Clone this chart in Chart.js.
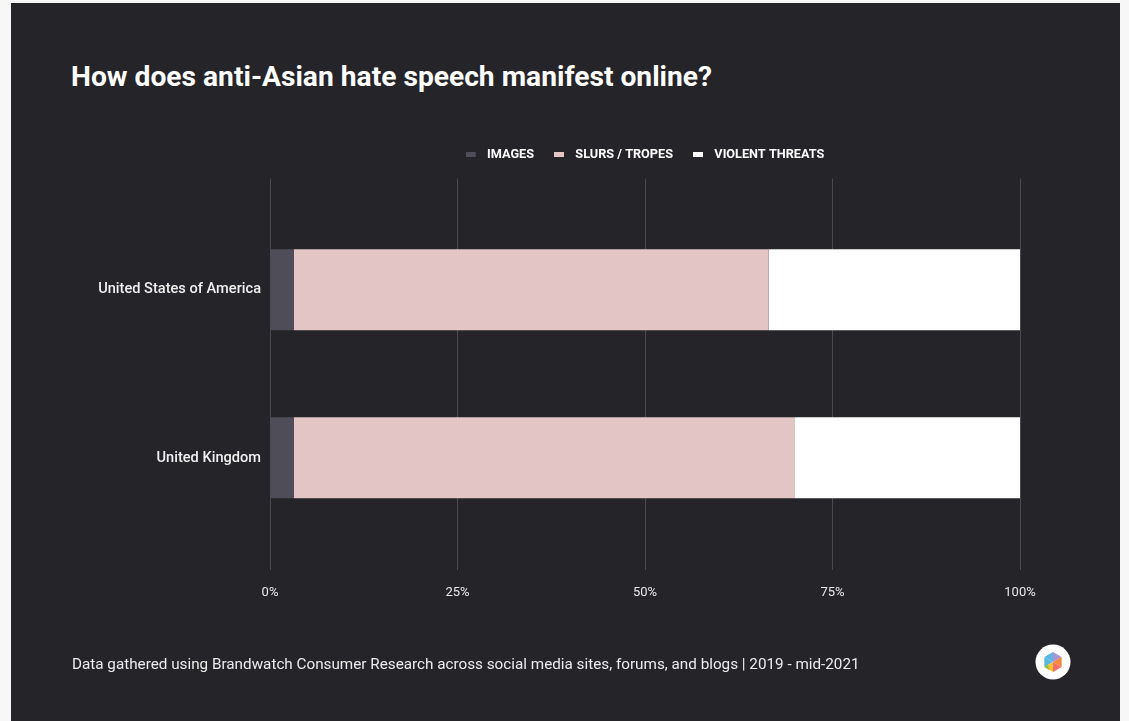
<!DOCTYPE html>
<html lang="en">
<head>
    <meta charset="UTF-8">
    <title>anti-Asian hate speech</title>
    <script src="https://cdn.jsdelivr.net/npm/chart.js@4/dist/chart.umd.min.js"></script>
    <style>
        body { margin: 0; background: #f7f7f7; font-family: Roboto, sans-serif; }
        .card { position: absolute; left: 11px; top: 3px; width: 1109px; height: 730px; background: #252429; }
        h1 { position: absolute; left: 71px; top: 60px; margin: 0; font-size: 28.2px; font-weight: 700; color: #ffffff; white-space: nowrap; }
        .note { position: absolute; left: 72px; top: 655px; font-size: 15.25px; color: #ececec; white-space: nowrap; }
        #chart { position: absolute; left: 0; top: 0; }
        .logo { position: absolute; left: 1035px; top: 644px; }
    </style>
</head>
<body>
    <div class="card"></div>
    <h1>How does anti-Asian hate speech manifest online?</h1>
    <canvas id="chart" width="1129" height="721"></canvas>
    <div class="note">Data gathered using Brandwatch Consumer Research across social media sites, forums, and blogs | 2019 - mid-2021</div>
    <svg class="logo" width="36" height="36" viewBox="0 0 36 36">
        <circle cx="18" cy="18" r="17.5" fill="#ffffff"/>
        <polygon points="18,8 18,18 9.3,13" fill="#5bb6e3"/>
        <polygon points="9.3,13 18,18 9.3,23" fill="#5bb6e3"/>
        <polygon points="18,8 26.7,13 18,18" fill="#a993d3"/>
        <polygon points="26.7,13 26.7,23 18,18" fill="#f5883c"/>
        <polygon points="26.7,23 18,28 18,18" fill="#f26f6a"/>
        <polygon points="18,28 9.3,23 18,18" fill="#fbc02d"/>
        <polygon points="9.3,23 13,20 14,25.7" fill="#8bc34a"/>
    </svg>
    <script>
        // chart values
        const countries = ['United States of America', 'United Kingdom'];
        const images = [3.2, 3.2];
        const slurs = [63.3, 66.7];
        const threats = [33.5, 30.1];
        const xTicks = [0, 25, 50, 75, 100];

        const gridColor = '#4b4a52';
        const colors = ['#4f4d58', '#e4c5c6', '#ffffff'];

        // legend swatch: 10x5 box with some empty room on its right
        function swatch(color) {
            const c = document.createElement('canvas');
            c.width = 15;
            c.height = 5;
            const g = c.getContext('2d');
            g.fillStyle = color;
            g.fillRect(0, 0, 10, 5);
            return c;
        }

        const ctx = document.getElementById('chart').getContext('2d');

        new Chart(ctx, {
            type: 'bar',
            data: {
                labels: countries,
                datasets: [
                    { label: 'IMAGES', data: images, backgroundColor: colors[0], pointStyle: swatch(colors[0]) },
                    { label: 'SLURS / TROPES', data: slurs, backgroundColor: colors[1], pointStyle: swatch(colors[1]) },
                    { label: 'VIOLENT THREATS', data: threats, backgroundColor: colors[2], pointStyle: swatch(colors[2]) }
                ]
            },
            options: {
                indexAxis: 'y',
                responsive: false,
                animation: false,
                layout: { padding: { left: 0, right: 109, top: 128, bottom: 104.5 } },
                datasets: { bar: { categoryPercentage: 1, barPercentage: 81 / 168, borderWidth: 0 } },
                plugins: {
                    legend: {
                        position: 'top',
                        fullSize: false,
                        labels: {
                            color: '#ffffff',
                            usePointStyle: true,
                            pointStyleWidth: 15,
                            boxWidth: 15,
                            boxHeight: 5,
                            padding: 20,
                            font: { family: 'Roboto', size: 12.7, weight: '700' }
                        }
                    },
                    tooltip: { enabled: false }
                },
                scales: {
                    x: {
                        stacked: true,
                        min: 0,
                        max: 100,
                        afterBuildTicks: (s) => { s.ticks = xTicks.map(v => ({ value: v })); },
                        border: { display: false },
                        grid: { color: gridColor, lineWidth: 1, drawTicks: true, tickLength: 28 },
                        ticks: {
                            color: '#e8e8e8',
                            padding: 15.5,
                            maxRotation: 0,
                            font: { family: 'Roboto', size: 13 },
                            callback: (v) => v + '%'
                        }
                    },
                    x2: {
                        position: 'top',
                        min: 0,
                        max: 100,
                        afterBuildTicks: (s) => { s.ticks = xTicks.map(v => ({ value: v })); },
                        border: { display: false },
                        grid: { color: gridColor, lineWidth: 1, drawOnChartArea: false, drawTicks: true, tickLength: 27 },
                        ticks: { display: false },
                        title: { display: true, text: '', padding: 0, font: { size: 8, lineHeight: '8px' } }
                    },
                    y: {
                        stacked: true,
                        afterFit: (s) => { s.width = 270; },
                        border: { display: false },
                        grid: { display: false, drawTicks: false, tickLength: 0 },
                        ticks: {
                            color: '#f0f0f0',
                            padding: 9,
                            font: { family: 'Roboto', size: 14.6, weight: '500' }
                        }
                    }
                }
            }
        });
    </script>
</body>
</html>
